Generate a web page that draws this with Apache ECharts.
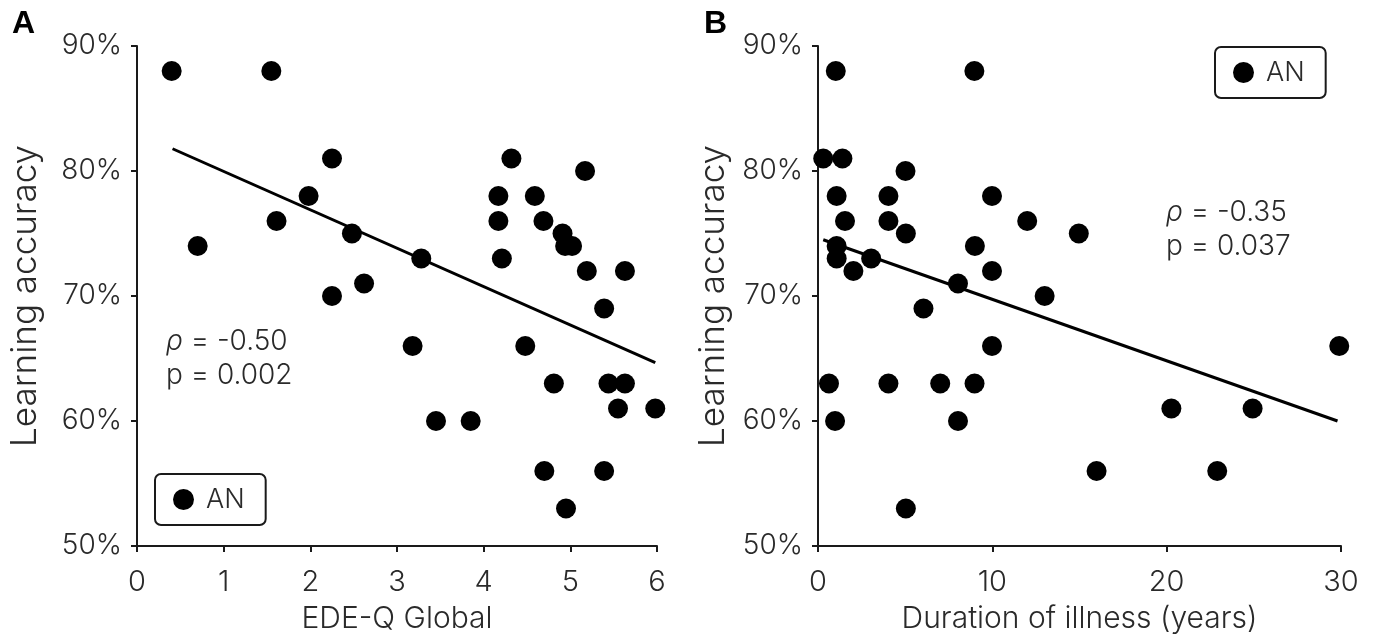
<!DOCTYPE html>
<html>
<head>
<meta charset="utf-8">
<script src="https://cdn.jsdelivr.net/npm/echarts@6/dist/echarts.min.js"></script>
<style>
  html, body { margin: 0; padding: 0; background: #fff; }
  #chart { width: 1373px; height: 639px; }
</style>
</head>
<body>
<div id="chart"></div>
<script>
// ---- Data ----
const seriesName = 'AN';

// Panel A: EDE-Q Global vs learning accuracy (%)
const edeqGlobal = [0.40,1.55,2.25,1.98,1.61,2.48,0.70,2.62,2.25,4.32,5.17,4.17,4.59,4.17,4.69,4.91,4.94,5.02,3.28,4.21,5.19,5.63,5.39,3.18,4.48,4.81,5.44,5.63,5.55,5.98,3.45,3.85,4.70,5.39,4.95];
const accuracyA  = [88,88,81,78,76,75,74,71,70,81,80,78,78,76,76,75,74,74,73,73,72,72,69,66,66,63,63,63,61,61,60,60,56,56,53];
const trendAX = [0.41, 5.98];
const trendAY = [81.78, 64.67];
const statsA = ['-0.50', '0.002'];

// Panel B: Duration of illness (years) vs learning accuracy (%)
const durationYears = [1.02,8.97,0.30,1.40,5.02,1.07,4.04,9.98,1.55,4.04,12.0,14.96,5.04,1.07,9.0,1.07,3.05,2.03,9.98,8.03,13.0,6.05,9.98,0.63,4.04,7.01,8.98,0.98,8.03,5.04,29.9,20.27,24.93,15.98,22.9];
const accuracyB     = [88,88,81,81,80,78,78,78,76,76,76,75,75,74,74,73,73,72,72,71,70,69,66,63,63,63,63,60,60,53,66,61,61,56,56];
const trendBX = [0.3, 29.8];
const trendBY = [74.5, 60.0];
const statsB = ['-0.35', '0.037'];

// Axis ticks
const xTicksA = { min: 0, max: 6, interval: 1 };
const xTicksB = { min: 0, max: 30, interval: 10 };
const yTicks  = { min: 50, max: 90, interval: 10 };

// ---- Helpers ----
const zip = (xs, ys) => xs.map((x, i) => [x, ys[i]]);
const FONT = 'Inter';
const W = 300;
const TXT = '#2a2a2a';
const AX = '#1a1a1a';

function xAxis(idx, t, name) {
  return {
    type: 'value', gridIndex: idx, min: t.min, max: t.max, interval: t.interval,
    name: name, nameLocation: 'middle', nameGap: 58,
    nameTextStyle: { fontFamily: FONT, fontWeight: W, fontSize: 30, color: TXT },
    axisLine: { show: true, onZero: false, lineStyle: { color: AX, width: 2 } },
    axisTick: { show: true, length: 6, lineStyle: { color: AX, width: 2 } },
    axisLabel: { fontFamily: FONT, fontWeight: W, fontSize: 29, color: TXT, margin: 22 },
    splitLine: { show: false }
  };
}
function yAxis(idx, gap) {
  return {
    type: 'value', gridIndex: idx, min: yTicks.min, max: yTicks.max, interval: yTicks.interval,
    name: 'Learning accuracy', nameLocation: 'middle', nameGap: gap,
    nameTextStyle: { fontFamily: FONT, fontWeight: W, fontSize: 35, color: TXT },
    axisLine: { show: true, onZero: false, lineStyle: { color: AX, width: 2 } },
    axisTick: { show: true, length: 6, lineStyle: { color: AX, width: 2 } },
    axisLabel: { fontFamily: FONT, fontWeight: W, fontSize: 28, color: TXT, margin: 15, formatter: '{value}%' },
    splitLine: { show: false }
  };
}
function legend(idx, left, top) {
  return {
    id: 'lg' + idx, data: [seriesName], left: left, top: top, orient: 'horizontal',
    icon: 'circle', itemWidth: 21, itemHeight: 21,
    borderColor: AX, borderWidth: 2, borderRadius: 6,
    padding: [12, 21, 12, 18],
    textStyle: { fontFamily: FONT, fontWeight: W, fontSize: 27, color: TXT, padding: [0, 0, 0, 7] },
    selectedMode: false
  };
}
function statText(x, y, vals) {
  return {
    type: 'text', left: x, top: y,
    style: {
      text: '{r|ρ} = ' + vals[0] + '\np = ' + vals[1],
      rich: { r: { fontStyle: 'italic', fontFamily: FONT, fontWeight: W, fontSize: 28, fill: TXT } },
      fontFamily: FONT, fontWeight: W, fontSize: 28, lineHeight: 34, fill: TXT
    }
  };
}

const chart = echarts.init(document.getElementById('chart'), null, { renderer: 'canvas' });
chart.setOption({
  animation: false,
  backgroundColor: '#fff',
  grid: [
    { left: 137, top: 46, width: 520, height: 500, outerBoundsMode: 'none', containLabel: false },
    { left: 818, top: 46, width: 523, height: 500, outerBoundsMode: 'none', containLabel: false }
  ],
  xAxis: [xAxis(0, xTicksA, 'EDE-Q Global'), xAxis(1, xTicksB, 'Duration of illness (years)')],
  yAxis: [yAxis(0, 94), yAxis(1, 87)],
  legend: [legend(0, 155, 474), legend(1, 1215, 47)],
  series: [
    { name: seriesName, type: 'scatter', xAxisIndex: 0, yAxisIndex: 0, symbolSize: 20,
      itemStyle: { color: '#000', opacity: 1 }, data: zip(edeqGlobal, accuracyA), z: 3 },
    { name: 'trendA', type: 'line', xAxisIndex: 0, yAxisIndex: 0, showSymbol: false, symbol: 'none',
      lineStyle: { color: '#000', width: 3 }, data: zip(trendAX, trendAY), z: 4 },
    { name: seriesName, type: 'scatter', xAxisIndex: 1, yAxisIndex: 1, symbolSize: 20,
      itemStyle: { color: '#000', opacity: 1 }, data: zip(durationYears, accuracyB), z: 3 },
    { name: 'trendB', type: 'line', xAxisIndex: 1, yAxisIndex: 1, showSymbol: false, symbol: 'none',
      lineStyle: { color: '#000', width: 3 }, data: zip(trendBX, trendBY), z: 4 }
  ],
  graphic: [
    { type: 'text', left: 12, top: 8, style: { text: 'A', fontFamily: 'Liberation Sans', fontWeight: 'bold', fontSize: 32, fill: '#000' } },
    { type: 'text', left: 704, top: 8, style: { text: 'B', fontFamily: 'Liberation Sans', fontWeight: 'bold', fontSize: 32, fill: '#000' } },
    statText(166, 325, statsA),
    statText(1166, 196, statsB)
  ]
});
</script>
</body>
</html>
